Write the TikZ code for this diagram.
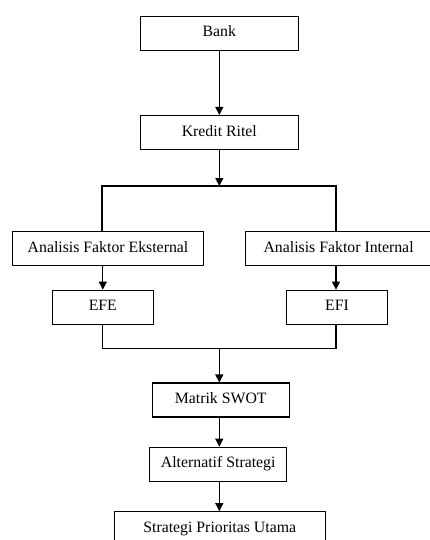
\documentclass[tikz,border=0pt]{standalone}
\usepackage{fontspec}
\setmainfont{Liberation Serif}
\usetikzlibrary{arrows.meta}
\begin{document}
\begin{tikzpicture}[x=1pt,y=-1pt,
  box/.style={draw, line width=1.1pt, minimum height=34pt, inner sep=0pt,
    text height=11pt, text depth=3.5pt, font=\fontsize{15.8}{19}\selectfont},
  conn/.style={line width=1.1pt},
  arr/.style={conn, -{Triangle[length=8pt,width=8pt]}}]
\useasboundingbox (0,0) rectangle (430,540);
\clip (0,0) rectangle (430,540);
\fill[white] (0,0) rectangle (430,540);
\node[box, minimum width=158pt] (bank) at (219.3,33.2) {Bank};
\node[box, minimum width=158pt] (kredit) at (219.3,132.5) {Kredit Ritel};
\node[box, minimum width=190.6pt] (eks) at (108,248.7) {Analisis Faktor Eksternal};
\node[box, minimum width=186pt] (int) at (338.6,248.7) {Analisis Faktor Internal};
\node[box, minimum width=101pt] (efe) at (102.8,307.2) {EFE};
\node[box, minimum width=100.6pt] (efi) at (337,307.2) {EFI};
\node[box, minimum width=136.7pt] (swot) at (220.7,400) {Matrik SWOT};
\node[box, minimum width=137pt] (alt) at (218.2,464.2) {Alternatif Strategi};
\node[box, minimum width=210.7pt] (prio) at (219.7,528.7) {Strategi Prioritas Utama};
\coordinate (split) at (219.3,186);
\coordinate (splitL) at (102,186);
\coordinate (splitR) at (336,186);
\coordinate (joinL) at (102.5,348.3);
\coordinate (joinR) at (336,348.3);
\coordinate (join) at (219.3,348.3);
\draw[arr] (bank.south) -- (kredit.north);
\draw[arr] (kredit.south) -- (split);
\draw[conn] (eks.north -| splitL) -- (splitL) -- (splitR) -- (int.north -| splitR);
\draw[arr] (eks.south -| efe.north) -- (efe.north);
\draw[arr] (int.south -| splitR) -- (efi.north -| splitR);
\draw[conn] (efe.south -| joinL) -- (joinL) -- (joinR) -- (efi.south -| joinR);
\draw[arr] (join) -- (swot.north -| join);
\draw[arr] (swot.south -| join) -- (alt.north -| join);
\draw[arr] (alt.south -| join) -- (prio.north -| join);
\end{tikzpicture}
\end{document}
